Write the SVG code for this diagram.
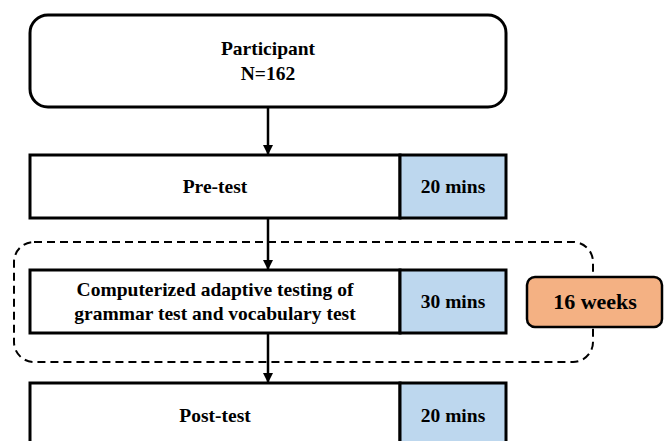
<svg xmlns="http://www.w3.org/2000/svg" width="666" height="441" viewBox="0 0 666 441">
<style>
.box{fill:#fff;stroke:#000;stroke-width:3}
.blue{fill:#BDD7EE;stroke:#000;stroke-width:3}
.t{font-family:'Liberation Serif','Times New Roman','DejaVu Serif',Times,serif;font-weight:700;font-size:19.5px;fill:#000;text-anchor:middle}
.c{stroke:#000;stroke-width:2.5;fill:none}
</style>
<defs>
<marker id="ah" markerWidth="10" markerHeight="10" refX="9" refY="5" orient="auto" markerUnits="userSpaceOnUse">
<path d="M0,0 L10,5 L0,10 Z" fill="#000"/>
</marker>
</defs>
<rect width="666" height="441" fill="#fff"/>
<g id="group">
<rect x="14" y="242" width="579" height="120" rx="20" fill="none" stroke="#000" stroke-width="2" stroke-dasharray="8,5"/>
</g>
<g id="connectors">
<line class="c" x1="268" y1="108" x2="268" y2="154" marker-end="url(#ah)"/>
<line class="c" x1="268" y1="219" x2="268" y2="269" marker-end="url(#ah)"/>
<line class="c" x1="268" y1="334" x2="268" y2="382" marker-end="url(#ah)"/>
</g>
<g id="participant">
<rect class="box" x="30" y="15" width="476" height="92" rx="18"/>
<text class="t" x="268" y="55">Participant</text>
<text class="t" x="268" y="80">N=162</text>
</g>
<g id="pretest">
<rect class="box" x="30" y="155" width="370" height="63"/>
<rect class="blue" x="400" y="155" width="106" height="63"/>
<text class="t" x="215" y="193">Pre-test</text>
<text class="t" x="453" y="193">20 mins</text>
</g>
<g id="cat">
<rect class="box" x="30" y="270" width="370" height="63"/>
<rect class="blue" x="400" y="270" width="106" height="63"/>
<text class="t" x="215" y="296">Computerized adaptive testing of</text>
<text class="t" x="215" y="320">grammar test and vocabulary test</text>
<text class="t" x="453" y="308">30 mins</text>
</g>
<g id="weeks">
<rect x="527" y="277" width="135" height="50" rx="8" fill="#F4B183" stroke="#000" stroke-width="2.5"/>
<text class="t" x="595" y="309" style="font-size:22px">16 weeks</text>
</g>
<g id="posttest">
<rect class="box" x="30" y="383" width="370" height="70"/>
<rect class="blue" x="400" y="383" width="106" height="70"/>
<text class="t" x="215" y="422">Post-test</text>
<text class="t" x="453" y="422">20 mins</text>
</g>
</svg>
